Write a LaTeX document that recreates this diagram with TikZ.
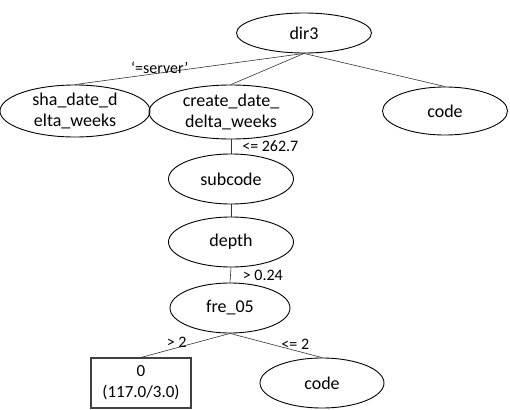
\documentclass[tikz,border=0pt]{standalone}
\usepackage{fontspec}
\setmainfont{Carlito}
\usetikzlibrary{shapes.geometric,positioning}

\begin{document}
\begin{tikzpicture}[
  x=1pt,y=-1pt,
  attr/.style={draw,ellipse,line width=0.9pt,inner sep=0pt,font=\fontsize{18}{21.6}\selectfont,align=center},
  leaf/.style={draw=black!75,line width=1.1pt,minimum width=100pt,minimum height=50pt,inner sep=0pt,font=\fontsize{17}{21}\selectfont,align=center},
  branch/.style={line width=0.6pt,draw=black!80},
  cond/.style={inner sep=0pt,font=\fontsize{16}{19}\selectfont}
]
  \useasboundingbox (0,0) rectangle (510,409);

  \node[attr,minimum width=135pt,minimum height=40pt] (dir) at (304,33) {dir3};
  \node[attr,minimum width=150pt,minimum height=52pt] (sha) at (75,111) {sha\_date\_d\\elta\_weeks};
  \node[attr,minimum width=164pt,minimum height=54pt] (create) at (231,112) {create\_date\_\\delta\_weeks};
  \node[attr,minimum width=125pt,minimum height=48pt] (code) at (445,111) {code};
  \node[attr,minimum width=125pt,minimum height=50pt] (subcode) at (231,179) {subcode};
  \node[attr,minimum width=125pt,minimum height=50pt] (depth) at (231,242) {depth};
  \node[attr,minimum width=120pt,minimum height=50pt] (fre) at (230,308) {fre\_05};
  \node[leaf] (zero) at (141,383) {0\\(117.0/3.0)};
  \node[attr,minimum width=124pt,minimum height=50pt] (code2) at (322,383) {code};

  % branches
  \draw[branch] (dir.south) -- node[cond,pos=0.63,yshift=5pt] (server) {‘=server’} (sha.north);
  \draw[branch] (dir.south) -- (create.north);
  \draw[branch] (dir.south) -- (code.north);
  \draw[branch] (create.south) -- node[cond,right=11pt] (le) {<= 262.7} (subcode.north);
  \draw[branch] (subcode.south) -- (depth.north);
  \draw[branch] (depth.south) -- node[cond,right=12pt] (gt) {> 0.24} (fre.north);
  \draw[branch] (fre.south) -- node[cond,pos=0.6,yshift=6pt] (gtwo) {> 2} (zero.north);
  \draw[branch] (fre.south) -- node[cond,pos=0.71,yshift=6pt] (letwo) {<= 2} (code2.north);
\end{tikzpicture}
\end{document}
